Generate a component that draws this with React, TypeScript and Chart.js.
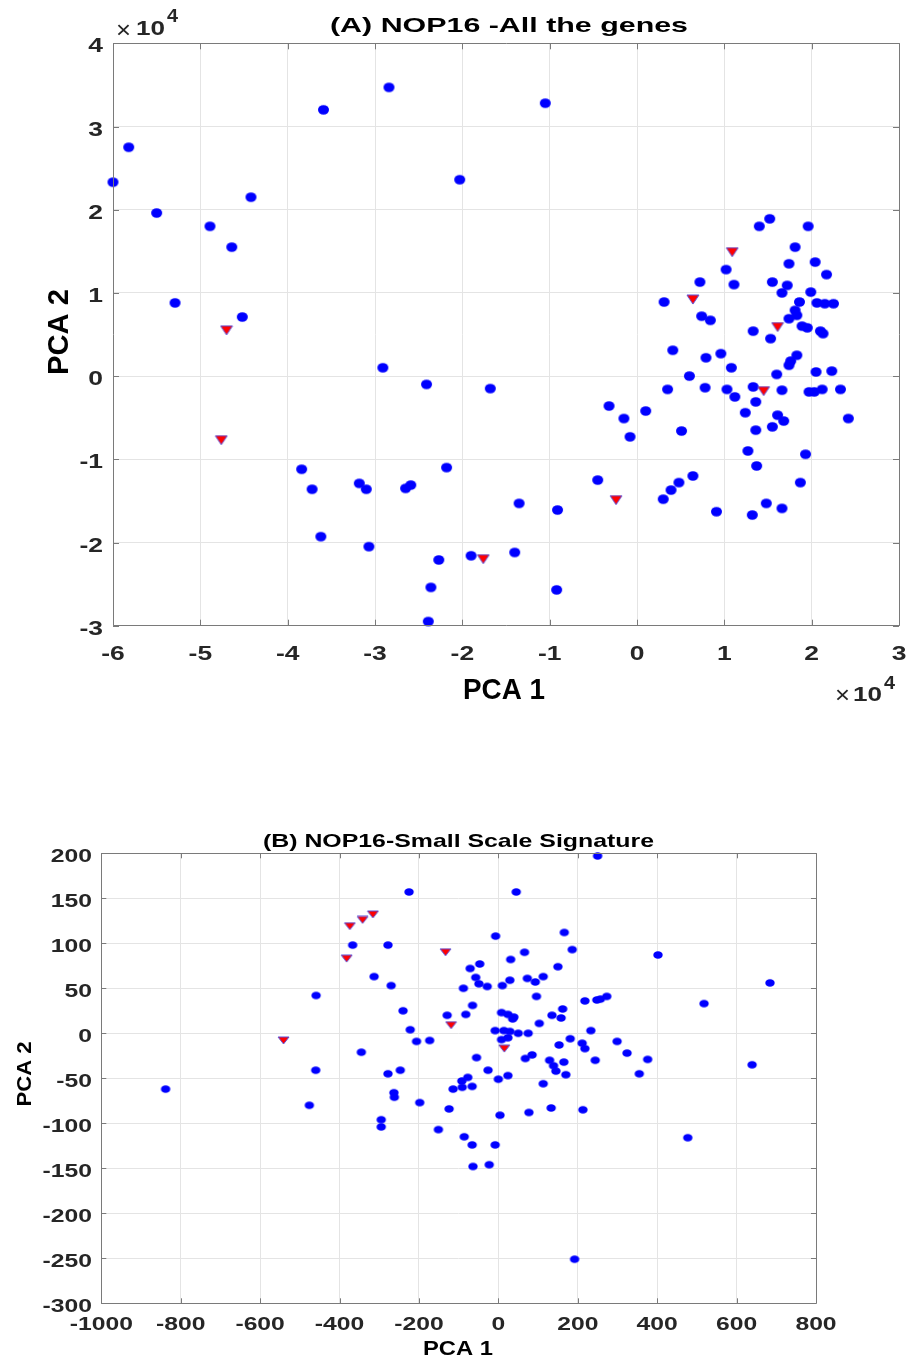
import React, { useEffect, useRef } from "react";
import { Chart, registerables } from "chart.js";
Chart.register(...registerables);

// ---------- Chart A data (values in units of 10^4) ----------
const A_EXP = 10000;
const A_X_TICKS = [-6, -5, -4, -3, -2, -1, 0, 1, 2, 3];
const A_Y_TICKS = [-3, -2, -1, 0, 1, 2, 3, 4];
const A_CIRCLES: [number, number][] = [
  [-6.0, 2.33], [-5.82, 2.75], [-5.5, 1.96], [-5.29, 0.88], [-4.89, 1.8], [-4.64, 1.55], [-4.42, 2.15],
  [-4.52, 0.71], [-3.59, 3.2], [-2.84, 3.47], [-2.03, 2.36], [-1.05, 3.28],
  [-2.91, 0.1], [-2.41, -0.1], [-1.68, -0.15], [-0.32, -0.36], [-0.15, -0.51],
  [-3.84, -1.12], [-3.72, -1.36], [-3.18, -1.29], [-3.1, -1.36], [-2.65, -1.35], [-2.59, -1.31],
  [-2.18, -1.1], [-0.45, -1.25], [-1.35, -1.53], [-0.91, -1.61], [-3.62, -1.93], [-3.07, -2.05],
  [-2.27, -2.21], [-1.9, -2.16], [-1.4, -2.12], [-2.36, -2.54], [-0.92, -2.57], [-2.39, -2.95],
  [1.52, 1.89], [1.4, 1.8], [1.96, 1.8], [1.81, 1.55], [1.74, 1.35], [2.04, 1.37], [1.02, 1.28],
  [2.17, 1.22], [0.72, 1.13], [1.11, 1.1], [1.55, 1.13], [1.72, 1.09], [1.66, 1.0], [1.99, 1.01],
  [0.31, 0.89], [1.86, 0.89], [2.06, 0.88], [2.15, 0.87], [2.25, 0.87], [0.74, 0.72], [0.84, 0.67],
  [1.81, 0.79], [1.83, 0.73], [1.74, 0.69], [1.89, 0.6], [1.95, 0.58], [2.1, 0.54], [2.13, 0.51],
  [1.33, 0.54], [1.53, 0.45], [0.41, 0.31], [0.79, 0.22], [0.96, 0.27], [1.08, 0.1], [1.83, 0.25],
  [1.76, 0.18], [1.74, 0.13], [0.6, 0.0], [1.6, 0.02], [2.05, 0.05], [2.23, 0.06], [0.35, -0.16],
  [0.78, -0.14], [1.03, -0.16], [1.12, -0.25], [1.33, -0.13], [1.66, -0.17], [1.97, -0.19],
  [2.03, -0.19], [2.12, -0.16], [2.33, -0.16], [1.36, -0.31], [1.24, -0.44], [0.1, -0.42],
  [-0.08, -0.73], [0.51, -0.66], [1.61, -0.47], [1.68, -0.54], [1.55, -0.61], [1.36, -0.65],
  [2.42, -0.51], [1.27, -0.9], [1.93, -0.94], [1.37, -1.08], [0.64, -1.2], [0.48, -1.28],
  [0.39, -1.37], [0.3, -1.48], [1.87, -1.28], [0.91, -1.63], [1.32, -1.67], [1.48, -1.53], [1.66, -1.59],
];
const A_TRIANGLES: [number, number][] = [
  [-4.7, 0.55], [-4.76, -0.77], [-1.76, -2.2], [-0.24, -1.49], [0.64, 0.92], [1.09, 1.49], [1.61, 0.59], [1.45, -0.18],
];

// ---------- Chart B data ----------
const B_X_TICKS = [-1000, -800, -600, -400, -200, 0, 200, 400, 600, 800];
const B_Y_TICKS = [-300, -250, -200, -150, -100, -50, 0, 50, 100, 150, 200];
const B_CIRCLES: [number, number][] = [
  [-838, -62], [-459, 42], [-460, -41], [-367, 98], [-313, 63], [-345, -21], [-278, 98], [-270, 53], [-278, -45],
  [250, 197], [-225, 157], [45, 157], [-7, 108], [166, 112], [186, 93], [66, 90], [31, 82], [-47, 77], [-71, 72],
  [150, 74], [-57, 62], [73, 61], [113, 63], [29, 59], [93, 57], [-49, 55], [-28, 52], [10, 53], [-88, 50], [96, 41],
  [218, 36], [248, 37], [257, 38], [273, 41], [-240, 25], [-65, 31], [-82, 21], [-129, 20], [8, 23], [24, 21], [36, 16],
  [39, 18], [135, 20], [162, 27], [158, 17], [103, 11], [-222, 4], [-8, 3], [14, 3], [29, 2], [50, 0], [75, 0], [233, 3],
  [-206, -9], [-173, -8], [8, -7], [24, -5], [153, -13], [181, -6], [211, -11], [218, -17], [299, -9], [-55, -27],
  [68, -28], [85, -24], [129, -30], [165, -32], [244, -30], [139, -36], [145, -42], [170, -46], [-247, -41], [-26, -41],
  [24, -47], [0, -51], [113, -56], [-77, -49], [-92, -53], [-91, -60], [-114, -62], [-66, -59], [-263, -66], [-262, -71],
  [-198, -77], [-124, -84], [4, -91], [77, -88], [133, -83], [213, -85], [-295, -96], [-295, -104], [-151, -107],
  [-86, -115], [-66, -124], [-8, -124], [-64, -148], [-23, -146], [477, -116], [192, -251], [-476, -80], [402, 87],
  [684, 56], [518, 33], [324, -22], [376, -29], [355, -45], [639, -35],
];
const B_TRIANGLES: [number, number][] = [
  [-541, -8], [-382, 83], [-374, 119], [-342, 126], [-316, 132], [-133, 90], [-119, 9], [15, -17],
];

const FONT = '"Liberation Sans", Arial, Helvetica, sans-serif';
const TEXT_COLOR = "#262626";
const AXIS_COLOR = "#7a7a7a";
const GRID_COLOR = "#e4e4e4";

type TextItem = {
  text: string; x: number; y: number; size: number;
  align?: CanvasTextAlign; sx?: number; width?: number; rotate?: boolean; color?: string; weight?: string;
};

function drawItem(ctx: CanvasRenderingContext2D, it: TextItem) {
  ctx.save();
  ctx.font = `${it.weight || "bold"} ${it.size}px ${FONT}`;
  ctx.fillStyle = it.color || TEXT_COLOR;
  ctx.translate(it.x, it.y);
  if (it.rotate) ctx.rotate(-Math.PI / 2);
  const w = ctx.measureText(it.text).width;
  const s = it.width ? it.width / w : it.sx || 1;
  ctx.scale(s, 1);
  ctx.textAlign = it.align || "center";
  ctx.textBaseline = "alphabetic";
  ctx.fillText(it.text, 0, (0.716 * it.size) / 2);
  ctx.restore();
}

function makeCircle(rx: number, ry: number) {
  const c = document.createElement("canvas");
  const w = Math.ceil(rx * 2) + 2, h = Math.ceil(ry * 2) + 2;
  c.width = w; c.height = h;
  const g = c.getContext("2d")!;
  g.fillStyle = "#0000ff";
  g.beginPath();
  g.ellipse(w / 2, h / 2, rx, ry, 0, 0, Math.PI * 2);
  g.fill();
  return c;
}

function makeTri(tw: number, th: number) {
  const c = document.createElement("canvas");
  const w = Math.ceil(tw) + 2, h = Math.ceil(th) + 2;
  c.width = w; c.height = h;
  const g = c.getContext("2d")!;
  g.beginPath();
  g.moveTo(1, 1); g.lineTo(w - 1, 1); g.lineTo(w / 2, h - 1); g.closePath();
  g.fillStyle = "#ff0000";
  g.fill();
  g.strokeStyle = "#5a4fd8";
  g.lineWidth = 1;
  g.stroke();
  return c;
}

type Cfg = {
  xMin: number; xMax: number; xStep: number;
  yMin: number; yMax: number; yStep: number;
  pad: { left: number; right: number; top: number; bottom: number };
  circles: { x: number; y: number }[];
  triangles: { x: number; y: number }[];
  circleImg: HTMLCanvasElement; triImg: HTMLCanvasElement;
  tickLen: number;
  texts: (chart: any) => TextItem[];
};

function build(canvas: HTMLCanvasElement, cfg: Cfg) {
  const framePlugin = {
    id: "frame",
    afterDraw(chart: any) {
      const ctx = chart.ctx as CanvasRenderingContext2D;
      const a = chart.chartArea;
      const xs = chart.scales.x, ys = chart.scales.y;
      ctx.save();
      ctx.strokeStyle = AXIS_COLOR;
      ctx.lineWidth = 1;
      ctx.beginPath();
      ctx.rect(Math.round(a.left) + 0.5, Math.round(a.top) + 0.5, Math.round(a.right - a.left), Math.round(a.bottom - a.top));
      ctx.stroke();
      ctx.beginPath();
      for (let v = cfg.xMin; v <= cfg.xMax + 1e-9; v += cfg.xStep) {
        const px = Math.round(xs.getPixelForValue(v)) + 0.5;
        ctx.moveTo(px, a.bottom); ctx.lineTo(px, a.bottom - cfg.tickLen);
        ctx.moveTo(px, a.top); ctx.lineTo(px, a.top + cfg.tickLen);
      }
      for (let v = cfg.yMin; v <= cfg.yMax + 1e-9; v += cfg.yStep) {
        const py = Math.round(ys.getPixelForValue(v)) + 0.5;
        ctx.moveTo(a.left, py); ctx.lineTo(a.left + cfg.tickLen, py);
        ctx.moveTo(a.right, py); ctx.lineTo(a.right - cfg.tickLen, py);
      }
      ctx.stroke();
      ctx.restore();
      cfg.texts(chart).forEach((t) => drawItem(ctx, t));
    },
  };
  return new Chart(canvas, {
    type: "scatter",
    data: {
      datasets: [
        { data: cfg.triangles, pointStyle: cfg.triImg as any, pointRadius: 6, clip: false as any },
        { data: cfg.circles, pointStyle: cfg.circleImg as any, pointRadius: 6, clip: false as any },
      ],
    },
    options: {
      animation: false,
      responsive: false,
      events: [],
      layout: { padding: cfg.pad },
      plugins: { legend: { display: false }, tooltip: { enabled: false }, title: { display: false } },
      scales: {
        x: {
          type: "linear", min: cfg.xMin, max: cfg.xMax,
          ticks: { stepSize: cfg.xStep, display: false },
          grid: { color: GRID_COLOR, drawTicks: false, lineWidth: 1 },
          border: { display: false },
          afterFit: (s: any) => { s.height = 0; },
        },
        y: {
          type: "linear", min: cfg.yMin, max: cfg.yMax,
          ticks: { stepSize: cfg.yStep, display: false },
          grid: { color: GRID_COLOR, drawTicks: false, lineWidth: 1 },
          border: { display: false },
          afterFit: (s: any) => { s.width = 0; },
        },
      },
    },
    plugins: [framePlugin],
  });
}

const B_TOP = 760;

export default function App() {
  const refA = useRef<HTMLCanvasElement>(null);
  const refB = useRef<HTMLCanvasElement>(null);

  useEffect(() => {
    const chartA = build(refA.current!, {
      xMin: -6 * A_EXP, xMax: 3 * A_EXP, xStep: A_EXP,
      yMin: -3 * A_EXP, yMax: 4 * A_EXP, yStep: A_EXP,
      pad: { left: 113, right: 8, top: 43.3, bottom: B_TOP - 625.7 },
      circles: A_CIRCLES.map(([x, y]) => ({ x: x * A_EXP, y: y * A_EXP })),
      triangles: A_TRIANGLES.map(([x, y]) => ({ x: x * A_EXP, y: y * A_EXP })),
      circleImg: makeCircle(5.5, 4.8),
      triImg: makeTri(11.5, 8.5),
      tickLen: 6,
      texts: (chart: any) => {
        const xs = chart.scales.x, ys = chart.scales.y;
        const items: TextItem[] = [
          { text: "(A) NOP16 -All the genes", x: 509, y: 24, size: 21, width: 358, color: "#000" },
          { text: "PCA 1", x: 504, y: 688, size: 30, width: 82, color: "#000" },
          { text: "PCA 2", x: 57, y: 332, size: 30, width: 86, rotate: true, color: "#000" },
          { text: "\u00d7", x: 116, y: 29, size: 24, width: 15, align: "left", weight: "normal" },
          { text: "10", x: 136, y: 27.5, size: 21, width: 29, align: "left" },
          { text: "4", x: 167, y: 15, size: 19, width: 11, align: "left" },
          { text: "\u00d7", x: 835, y: 694.5, size: 24, width: 15, align: "left", weight: "normal" },
          { text: "10", x: 853, y: 693, size: 21, width: 29, align: "left" },
          { text: "4", x: 884, y: 682, size: 19, width: 11, align: "left" },
        ];
        A_X_TICKS.forEach((v) =>
          items.push({ text: String(v), x: xs.getPixelForValue(v * A_EXP), y: 652.5, size: 21, sx: 1.26 })
        );
        A_Y_TICKS.forEach((v) =>
          items.push({ text: String(v), x: 103, y: ys.getPixelForValue(v * A_EXP) + 1.5, size: 21, sx: 1.26, align: "right" })
        );
        return items;
      },
    });
    const chartB = build(refB.current!, {
      xMin: -1000, xMax: 800, xStep: 200,
      yMin: -300, yMax: 200, yStep: 50,
      pad: { left: 101.3, right: 91, top: 853.3 - B_TOP, bottom: 1359 - 1303.3 },
      circles: B_CIRCLES.map(([x, y]) => ({ x, y })),
      triangles: B_TRIANGLES.map(([x, y]) => ({ x, y })),
      circleImg: makeCircle(4.7, 3.8),
      triImg: makeTri(10.5, 7),
      tickLen: 5,
      texts: (chart: any) => {
        const xs = chart.scales.x, ys = chart.scales.y;
        const items: TextItem[] = [
          { text: "(B) NOP16-Small Scale Signature", x: 458.5, y: 840.5 - B_TOP, size: 19, width: 391, color: "#000" },
          { text: "PCA 1", x: 458, y: 1348 - B_TOP, size: 20, width: 70, color: "#000" },
          { text: "PCA 2", x: 23.5, y: 1074 - B_TOP, size: 20, width: 65, rotate: true, color: "#000" },
        ];
        B_X_TICKS.forEach((v) =>
          items.push({ text: String(v), x: xs.getPixelForValue(v), y: 1323 - B_TOP, size: 19, sx: 1.3 })
        );
        B_Y_TICKS.forEach((v) =>
          items.push({ text: String(v), x: 92, y: ys.getPixelForValue(v) + 1.5, size: 19, sx: 1.3, align: "right" })
        );
        return items;
      },
    });
    return () => {
      chartA.destroy();
      chartB.destroy();
    };
  }, []);

  return (
    <div style={{ position: "absolute", left: 0, top: 0, width: 907, height: 1359, background: "#fff" }}>
      <canvas ref={refA} width={907} height={B_TOP} style={{ position: "absolute", left: 0, top: 0, width: 907, height: B_TOP }} />
      <canvas ref={refB} width={907} height={1359 - B_TOP} style={{ position: "absolute", left: 0, top: B_TOP, width: 907, height: 1359 - B_TOP }} />
    </div>
  );
}
